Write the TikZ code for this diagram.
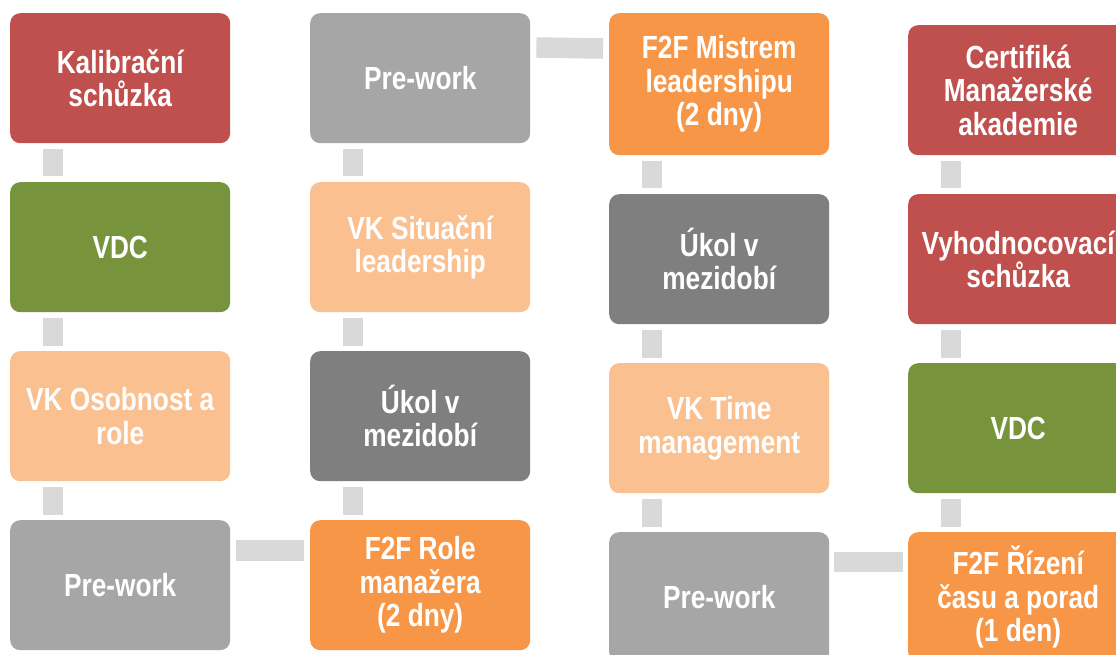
\documentclass[tikz,border=0pt]{standalone}
\usepackage{fontspec}
\newfontfamily\boxfont[FakeStretch=0.82]{Liberation Sans}
\definecolor{cred}{HTML}{C0504D}
\definecolor{cgreen}{HTML}{77933C}
\definecolor{cpeach}{HTML}{FAC090}
\definecolor{cgrey}{HTML}{A6A6A6}
\definecolor{cdgrey}{HTML}{7F7F7F}
\definecolor{corange}{HTML}{F79646}
\definecolor{cconn}{HTML}{D9D9D9}
\tikzset{
  pbox/.style={rectangle, rounded corners=10pt, minimum width=220pt, minimum height=130pt,
    inner sep=0pt, anchor=north west, text=white, align=center,
    font=\boxfont\bfseries\fontsize{32}{33.5}\selectfont},
  conn/.style={draw=cconn, line width=20.5pt, line cap=butt}
}
\begin{document}
\begin{tikzpicture}[x=1pt,y=-1pt]
\clip (0,0) rectangle (1116,655);
\fill[white] (0,0) rectangle (1116,655);
% column 1
\node[pbox, fill=cred] (k) at (10,13) {Kalibrační\\schůzka};
\node[pbox, fill=cgreen] (v1) at (10,182) {VDC};
\node[pbox, fill=cpeach] (vko) at (10,351) {VK Osobnost a\\role};
\node[pbox, fill=cgrey] (pw1) at (10,520) {Pre-work};
% column 2
\node[pbox, fill=cgrey] (pw2) at (310,13) {Pre-work};
\node[pbox, fill=cpeach] (vks) at (310,182) {VK Situační\\leadership};
\node[pbox, fill=cdgrey] (uk1) at (310,351) {Úkol v\\mezidobí};
\node[pbox, fill=corange] (f2fr) at (310,520) {F2F Role\\manažera\\(2 dny)};
% column 3
\node[pbox, fill=corange, minimum height=142pt] (f2fm) at (609,13) {F2F Mistrem\\leadershipu\\(2 dny)};
\node[pbox, fill=cdgrey] (uk2) at (609,194) {Úkol v\\mezidobí};
\node[pbox, fill=cpeach] (vkt) at (609,363) {VK Time\\management};
\node[pbox, fill=cgrey] (pw3) at (609,532) {Pre-work};
% column 4
\node[pbox, fill=cred] (cert) at (908,25) {Certifiká\\Manažerské\\akademie};
\node[pbox, fill=cred] (vyh) at (908,194) {Vyhodnocovací\\schůzka};
\node[pbox, fill=cgreen] (v2) at (908,363) {VDC};
\node[pbox, fill=corange] (f2fz) at (908,532) {F2F Řízení\\času a porad\\(1 den)};
% vertical connectors
\foreach \a/\b in {k/v1, v1/vko, vko/pw1, pw2/vks, vks/uk1, uk1/f2fr, f2fm/uk2, uk2/vkt, vkt/pw3, cert/vyh, vyh/v2, v2/f2fz}{
  \draw[conn] ([xshift=43pt,yshift=-5.5pt]\a.south west) -- ([xshift=43pt,yshift=5.5pt]\b.north west);
}
% horizontal connectors
\draw[conn] ([xshift=6pt,yshift=-30.5pt]pw1.north east) -- ([xshift=-6pt,yshift=-30.5pt]f2fr.north west);
\draw[conn] ([xshift=6pt,yshift=-34.5pt]pw2.north east) -- ([xshift=-6pt,yshift=-35.5pt]f2fm.north west);
\draw[conn] ([xshift=5pt,yshift=-30pt]pw3.north east) -- ([xshift=-5pt,yshift=-30pt]f2fz.north west);
\end{tikzpicture}
\end{document}
